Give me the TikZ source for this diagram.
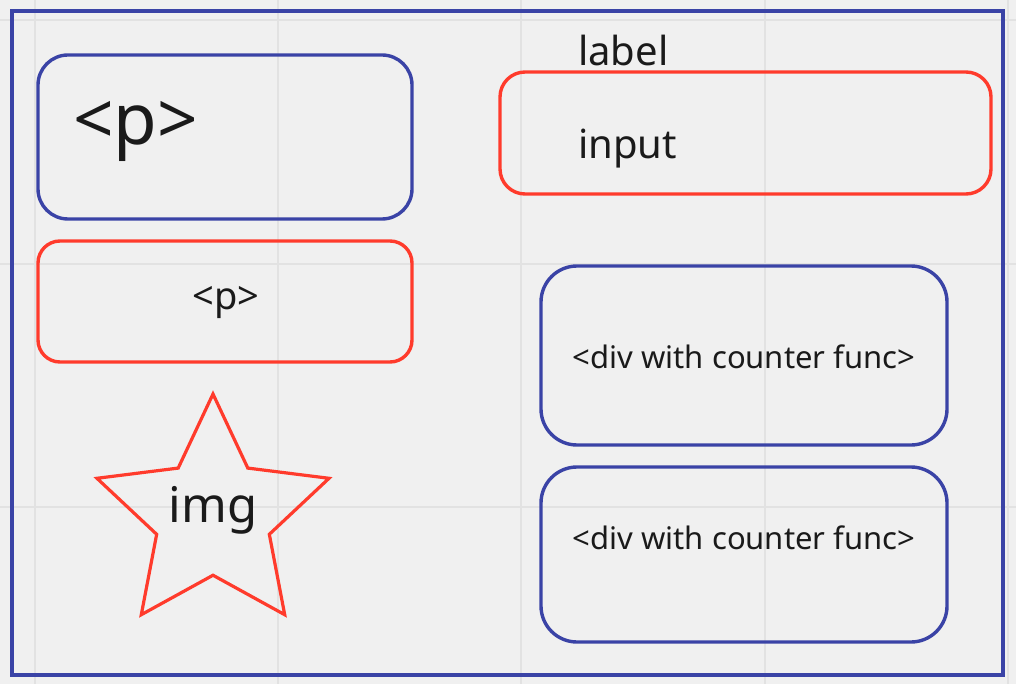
\documentclass[tikz,border=0pt]{standalone}
\usepackage{fontspec}
\setmainfont{Noto Sans}
\usetikzlibrary{shapes.geometric}
\definecolor{bg}{HTML}{F0F0F0}
\definecolor{gridc}{HTML}{E2E2E2}
\definecolor{myblue}{HTML}{3A43A6}
\definecolor{myred}{HTML}{FF3B2C}
\definecolor{txt}{HTML}{1A1A1A}
\tikzset{
  x=1pt, y=-1pt,
  bluebox/.style={draw=myblue, line width=3.4pt, rounded corners=30pt, inner sep=0pt},
  redbox/.style={draw=myred, line width=3.4pt, rounded corners=22pt, inner sep=0pt},
  txtnode/.style={inner sep=0pt, text=txt},
}
\begin{document}
\begin{tikzpicture}
\useasboundingbox (0,0) rectangle (1016,684);
\fill[bg] (0,0) rectangle (1016,684);
% grid
\foreach \gx in {35,278,521,765,1008} \draw[gridc, line width=2pt] (\gx,0) -- (\gx,684);
\foreach \gy in {20,264,507} \draw[gridc, line width=2pt] (0,\gy) -- (1016,\gy);
% frame
\node[draw=myblue, line width=3.2pt, inner sep=0pt, minimum width=991pt, minimum height=664pt] (frame) at (507.5,343) {};
% boxes
\node[bluebox, minimum width=374pt, minimum height=164pt] (p1) at (225,137) {};
\node[txtnode, anchor=base west, font=\fontsize{71}{80}\selectfont] (p1t) at (73,145) {<p>};
\node[redbox, minimum width=374pt, minimum height=121pt] (p2) at (225,301.5) {};
\node[txtnode, font=\fontsize{38}{44}\selectfont] (p2t) at (226,303) {<p>};
\node[txtnode, anchor=base west, font=\fontsize{40}{46}\selectfont] (lbl) at (578,66) {label};
\node[redbox, rounded corners=25pt, minimum width=491pt, minimum height=122pt] (inp) at (745.5,133) {};
\node[txtnode, anchor=base west, font=\fontsize{40}{46}\selectfont] (inpt) at (578,159) {input};
\node[bluebox, rounded corners=36pt, minimum width=406pt, minimum height=179pt] (d1) at (744,355.5) {};
\node[txtnode, font=\fontsize{31}{36}\selectfont] (d1t) at (744,357) {<div with counter func>};
\node[bluebox, rounded corners=36pt, minimum width=406pt, minimum height=175pt] (d2) at (744,554.5) {};
\node[txtnode, font=\fontsize{31}{36}\selectfont] (d2t) at (744,538) {<div with counter func>};
% star
\node[star, star points=5, star point ratio=2.06, minimum size=244pt, draw=myred, line width=3.2pt, inner sep=0pt] (st) at (213,516) {};
\node[txtnode, font=\fontsize{49}{56}\selectfont] (img) at (213,510) {img};
\end{tikzpicture}
\end{document}
